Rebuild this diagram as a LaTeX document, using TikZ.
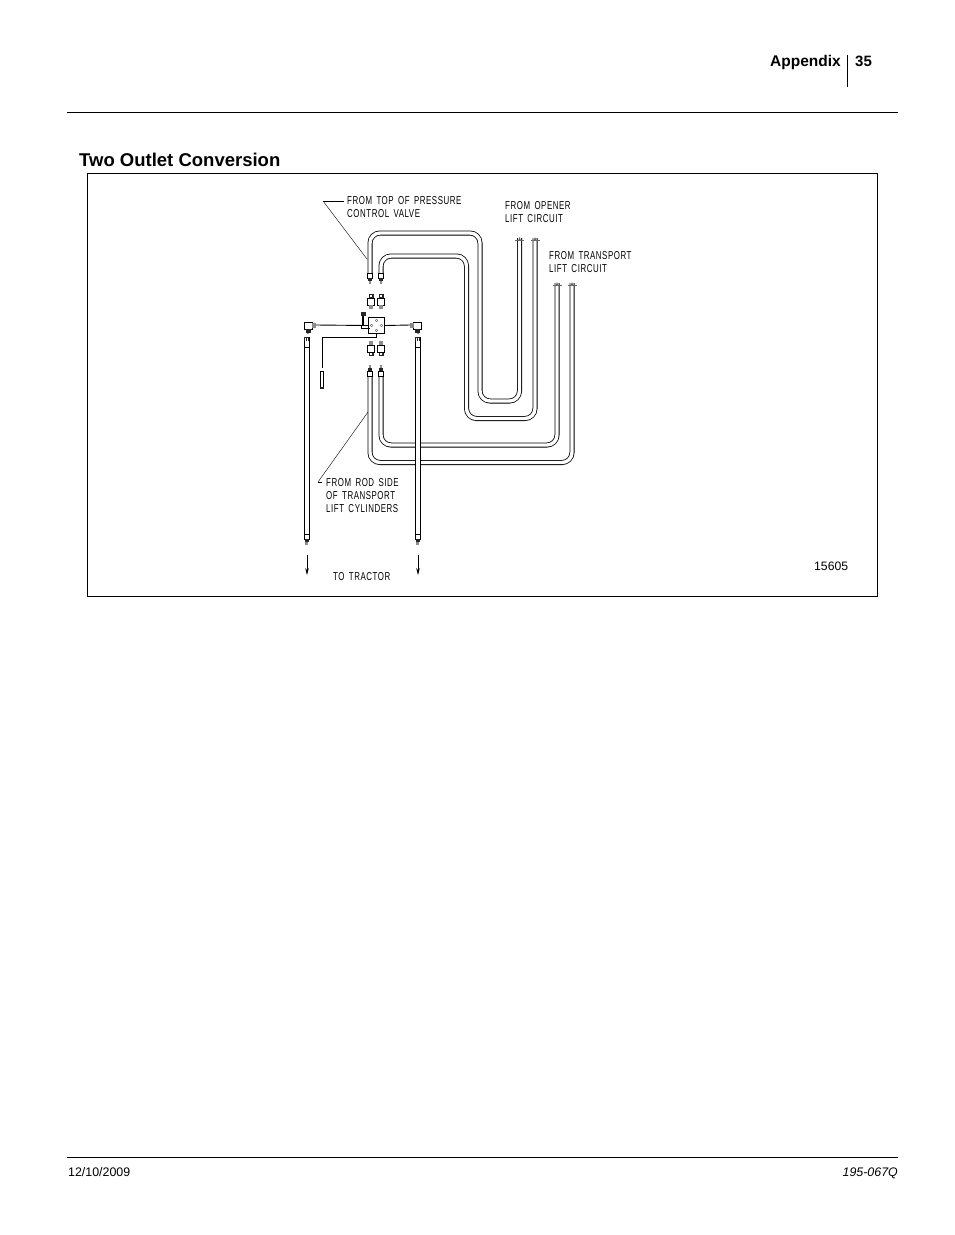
\documentclass[tikz,border=0pt]{standalone}
\usepackage{fontspec}
\setmainfont{Liberation Sans}
\newfontfamily\cadfont[LetterSpace=7,WordSpace=1.6]{Liberation Sans}
\usetikzlibrary{arrows.meta}
\tikzset{
    pipe/.style={double,double distance=3.4pt,line width=0.8pt,rounded corners=10pt},
    hose/.style={line width=0.9pt,fill=white},
    cadtext/.style={font=\cadfont\fontsize{7.9}{10}\selectfont,anchor=base west,inner sep=0pt,yscale=1.45,transform shape},
    leader/.style={line width=0.4pt},
    darkpart/.style={fill=black!85},
    greypart/.style={fill=black!45},
    coupler/.pic={
        \fill[darkpart] (-2.5,-7) rectangle (2.5,-3);
        \fill[white] (-1,-6) rectangle (1,-4);
        \draw[line width=0.8pt,fill=white] (-3.5,-3) rectangle (3.5,4);
        \fill[greypart] (-2,4) rectangle (2,8);
    },
    hoseend/.pic={
        \draw[line width=0.8pt,fill=white] (-2.4,-4) rectangle (2.4,1);
        \fill[darkpart] (-2,1) rectangle (2,4);
        \fill[greypart] (-1.2,4) rectangle (1.2,7);
    },
    hosecap/.pic={
        \draw[line width=0.9pt,fill=white] (-2.5,0) rectangle (2.5,10);
        \fill[darkpart] (-2.5,0) rectangle (2.5,4);
        \fill[white] (-1.4,1) rectangle (-0.3,4);
        \fill[white] (0.3,1) rectangle (1.4,4);
    },
    pipetop/.pic={
        \draw[line width=0.3pt,black!60] (-4.5,2) -- (4.5,2);
        \fill[black!60] (-1.2,2) -- (0,-1) -- (1.2,2) -- cycle;
    },
    elbow/.pic={
        \draw[line width=0.9pt,fill=white] (-4,-4) rectangle (4,3);
        \fill[darkpart] (-2.5,3) rectangle (2.5,7);
        \fill[greypart] (-1,7) rectangle (1,8);
    }
}
\begin{document}
\begin{tikzpicture}[x=1pt,y=-1pt]
\useasboundingbox (0,0) rectangle (954,1235);

\node[font=\bfseries\fontsize{15.5}{18}\selectfont,anchor=base east,inner sep=0pt] (appendix) at (841,66) {Appendix};
\node[font=\bfseries\fontsize{15}{18}\selectfont,anchor=base west,inner sep=0pt] (pagenum) at (855,66) {35};
\node[font=\bfseries\fontsize{18.5}{22}\selectfont,anchor=base west,inner sep=0pt] (title) at (79,166) {Two Outlet Conversion};
\node[font=\fontsize{12.2}{14}\selectfont,anchor=base west,inner sep=0pt] (figno) at (814,570) {15605};
\node[font=\fontsize{12.4}{14}\selectfont,anchor=base west,inner sep=0pt] (date) at (68,1176) {12/10/2009};
\node[font=\itshape\fontsize{12.4}{14}\selectfont,anchor=base east,inner sep=0pt] (partno) at (898,1176) {195-067Q};

\draw[line width=0.8pt] (67,112) -- (898,112);
\draw[line width=0.8pt] (67,1157) -- (898,1157);
\draw[line width=0.8pt] (847.5,55) -- (847.5,87);
\draw[line width=0.7pt] (87.5,173.5) rectangle (877.5,596.5);

\node[cadtext] (toplabel) at (347,204.5) {FROM TOP OF PRESSURE};
\node[cadtext] at (347,217.5) {CONTROL VALVE};
\node[cadtext] (openerlabel) at (505,209.5) {FROM OPENER};
\node[cadtext] at (505,222.5) {LIFT CIRCUIT};
\node[cadtext] (transportlabel) at (549,259.5) {FROM TRANSPORT};
\node[cadtext] at (549,272.5) {LIFT CIRCUIT};
\node[cadtext] (rodlabel) at (326,486.5) {FROM ROD SIDE};
\node[cadtext] at (326,499.5) {OF TRANSPORT};
\node[cadtext] at (326,512.5) {LIFT CYLINDERS};
\node[cadtext] (tractorlabel) at (333,580.5) {TO TRACTOR};

\coordinate (upA) at (370,273);
\coordinate (upB) at (381,273);
\coordinate (loA) at (370,372);
\coordinate (loB) at (381,372);
\coordinate (openA) at (519.5,238);
\coordinate (openB) at (535,238);
\coordinate (tranA) at (557,283);
\coordinate (tranB) at (572,283);

\draw[pipe] (upA) |- (480,233) |- (519.5,401) -- (openA);
\draw[pipe] (upB) |- (466.5,256) |- (535,418.5) -- (openB);
\draw[pipe] (loA) |- (572,462.5) -- (tranB);
\draw[pipe] (loB) |- (557,445) -- (tranA);

\foreach \i in {openA,openB,tranA,tranB}
    \pic at (\i) {pipetop};

\foreach \i in {306.5,417.5} {
    \draw[hose] (\i-2.5,342) rectangle (\i+2.5,535);
    \pic at (\i,337) {hosecap};
    \pic at (\i,538) {hoseend};
}
\foreach \i in {307,418}
    \draw[line width=0.6pt,-{Stealth[length=7pt,width=3.5pt]}] (\i,555) -- (\i,575);

\foreach \i in {upA,upB}
    \pic at (\i) [yshift=-4pt] {hoseend};
\foreach \i in {loA,loB}
    \pic[yscale=-1] at (\i) {hoseend};

\foreach \i in {371,381} {
    \pic at (\i,301) {coupler};
    \pic[yscale=-1] at (\i,349) {coupler};
}

\node[draw,line width=1pt,fill=white,minimum size=16pt,inner sep=0pt] (block) at (376.5,325.5) {};
\foreach \i/\j in {-5/0,5/0,0/-5,0/5}
    \draw[line width=0.4pt,black!60] ([xshift=\i pt,yshift=\j pt]block.center) circle (1.3pt);

\pic (elbowL) at (308,326) {elbow};
\pic (elbowR) at (417.5,326) {elbow};
\fill[greypart] (312,323) rectangle (316,328);
\fill[greypart] (410,323) rectangle (414,328);
\draw[line width=0.9pt] (316,325) -- (block.west);
\draw[line width=0.9pt] (block.east) -- (410,325);

\coordinate (stemtop) at (363,312);
\coordinate (stembase) at (363,325);
\draw[line width=1.8pt] (stemtop) -- (stembase);
\fill[darkpart] (360.5,312) rectangle (365.5,316);
\draw[line width=0.9pt] (361,325) |- (370,328);

\coordinate (gauge) at (322,368);
\draw[line width=0.8pt] (block.south) -- ++(0,3) -| (gauge);
\draw[line width=0.7pt] (320.5,371) rectangle (323.5,387);
\fill[darkpart] (320,387) rectangle (324,389);

\coordinate (lead1) at (344,201);
\coordinate (lead2) at (323,201);
\coordinate (lead3) at (367,259);
\draw[line width=0.7pt] (lead1) -- (lead2);
\draw[leader] (lead2) -- (lead3);
\coordinate (lead4) at (322,482);
\coordinate (lead5) at (318,482);
\coordinate (lead6) at (368,412);
\draw[line width=0.7pt] (lead4) -- (lead5);
\draw[leader] (lead5) -- (lead6);

\end{tikzpicture}
\end{document}
